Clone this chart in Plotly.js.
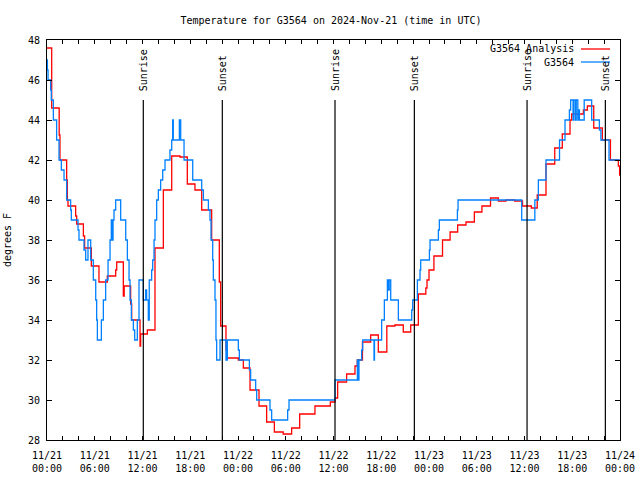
<!DOCTYPE html>
<html>
<head>
<meta charset="utf-8">
<script src="https://cdn.plot.ly/plotly-3.0.1.min.js"></script>
<style>html,body{margin:0;padding:0;background:#fff;} #chart{width:640px;height:480px;}</style>
</head>
<body>
<div id="chart"></div>
<script>
// Hours since 2024-11-21 00:00 UTC
const anaHours = [0,0.59,1.53,1.63,2.47,2.56,2.64,3.60,3.73,4.57,4.73,5.57,6.53,7.58,8.63,8.76,9.59,9.70,10.51,10.64,11.69,11.77,12.61,13.57,14.62,15.67,16.71,17.63,18.59,19.44,20.69,21.65,21.82,22.49,22.66,24.04,24.67,25.51,26.64,27.60,28.57,29.68,30.74,31.75,33.67,35.60,36.20,36.52,37.65,38.70,38.99,39.64,40.67,41.63,42.70,43.72,44.77,45.70,46.66,47.60,47.75,48.00,48.62,49.70,50.65,51.60,52.65,53.70,54.65,55.73,56.72,57.68,58.77,59.75,60.86,61.60,62.70,63.80,64.75,65.72,65.93,67.40,67.90,68.70,69.78,70.80,71.79,71.95,72];
const anaTemps = [47.6,44.6,43.25,42.0,41.0,40.0,39.7,39.2,38.8,38.2,37.6,36.7,35.9,36.2,36.5,36.9,35.2,35.7,34.8,34.0,32.7,33.3,33.5,37.6,40.5,42.2,42.15,40.8,40.5,39.5,38.0,35.9,33.7,32.5,32.1,32.0,31.6,30.5,29.7,28.9,28.4,28.3,28.6,29.3,29.7,29.9,30.1,30.9,31.3,31.7,32.0,32.9,33.25,32.4,33.7,33.75,33.4,33.75,35.3,35.6,36.0,36.5,37.2,38.0,38.4,38.75,38.9,39.4,39.7,40.1,39.95,40.0,39.95,39.7,39.6,40.25,41.8,42.6,43.3,44.0,44.3,44.5,44.7,43.6,43.0,42.0,41.7,41.25,41.25];

const obsHours = [0,0.05,0.13,0.46,0.54,0.80,1.21,1.51,1.80,2.14,2.47,2.97,3.06,3.90,4.02,4.65,4.86,5.15,5.49,5.82,6.12,6.24,6.33,6.83,7.08,7.37,7.67,7.92,8.08,8.20,8.30,8.42,8.63,9.26,9.89,10.10,10.31,10.43,10.60,10.85,11.02,11.35,11.56,12.10,12.40,12.52,12.73,12.85,13.15,13.28,13.45,13.57,13.78,13.99,14.28,14.54,14.83,15.45,15.67,15.79,15.87,16.63,16.80,17.22,18.31,19.44,19.65,20.28,20.48,20.61,20.82,20.90,21.11,21.23,21.32,21.74,22.49,22.66,24.04,24.17,25.43,25.59,26.22,26.35,28.02,28.23,30.24,30.41,36.19,39.00,39.10,39.20,39.54,39.67,41.09,41.15,42.05,42.39,42.77,42.90,43.00,43.19,44.15,45.83,45.95,46.54,46.87,46.96,48.05,48.13,49.18,49.30,51.57,51.65,59.65,61.30,61.74,62.70,64.40,65.09,65.64,65.80,66.10,66.20,66.40,66.50,66.70,66.80,66.90,67.50,68.44,69.41,69.60,70.62,72];
const obsTemps = [47,46.5,46,45.5,45,44,43,42,41.5,41,40,39.5,39,38.5,38,37.5,37,38,37,36,35,34,33,34,35,36,37,38,39,38,39,39.5,40,39,38,37,36,35,34,33.5,33,34,36,35,35.5,35,34,36,36.5,37,38,39,40,40.5,41,41.5,42,42.5,43,44,43,44,43,42,41,40.5,40,39.5,39,38,37,36,35,33,32,33,32,33,32.5,32,31.5,31,30.5,30,29.5,29,29.5,30,31,32,31,32,32.5,33,32,33,34,35,36,35.5,36,35,34,34.5,35,36,36.5,37,37.5,38,38.5,39,39.5,40,39,40,41,42,43,44,44.5,45,44,45,44,45,44,44.5,44,45,44,43.5,43,42,42];

const sunriseHours = [12.10, 36.19, 60.32];
const sunsetHours = [22.03, 46.16, 70.16];

const tickHours = [0,2,4,6,8,10,12,14,16,18,20,22,24,26,28,30,32,34,36,38,40,42,44,46,48,50,52,54,56,58,60,62,64,66,68,70,72];
const tickLabels = ["11/21<br>00:00","","","11/21<br>06:00","","","11/21<br>12:00","","","11/21<br>18:00","","",
  "11/22<br>00:00","","","11/22<br>06:00","","","11/22<br>12:00","","","11/22<br>18:00","","",
  "11/23<br>00:00","","","11/23<br>06:00","","","11/23<br>12:00","","","11/23<br>18:00","","","11/24<br>00:00"];

const seriesNames = ["G3564 Analysis", "G3564"];
const seriesColors = ["#ff0000", "#0080ff"];

function toDate(h) {
  const d = new Date(Date.UTC(2024, 10, 21) + Math.round(h * 3600000));
  return d.toISOString().slice(0, 19).replace('T', ' ');
}

const FONT = "DejaVu Sans Mono";

const traces = [
  {x: anaHours.map(toDate), y: anaTemps, mode: 'lines', name: seriesNames[0],
   line: {shape: 'hv', color: seriesColors[0], width: 1.3}, showlegend: false},
  {x: obsHours.map(toDate), y: obsTemps, mode: 'lines', name: seriesNames[1],
   line: {shape: 'hv', color: seriesColors[1], width: 1.3}, showlegend: false}
];

const shapes = [];
const annotations = [];
const lineTop = (440 - 100) / 400;
const labelBottom = (440 - 93) / 400;
sunriseHours.forEach(h => {
  shapes.push({type: 'line', xref: 'x', yref: 'paper', x0: toDate(h), x1: toDate(h), y0: 0, y1: lineTop,
    line: {color: '#000', width: 1.2}});
  annotations.push({text: 'Sunrise', xref: 'x', yref: 'paper', x: toDate(h), y: labelBottom,
    textangle: -90, xanchor: 'center', yanchor: 'bottom', showarrow: false, xshift: 1,
    font: {family: FONT, size: 10, color: '#000'}});
});
sunsetHours.forEach(h => {
  shapes.push({type: 'line', xref: 'x', yref: 'paper', x0: toDate(h), x1: toDate(h), y0: 0, y1: lineTop,
    line: {color: '#000', width: 1.2}});
  annotations.push({text: 'Sunset', xref: 'x', yref: 'paper', x: toDate(h), y: labelBottom,
    textangle: -90, xanchor: 'center', yanchor: 'bottom', showarrow: false, xshift: 1,
    font: {family: FONT, size: 10, color: '#000'}});
});

// custom legend (text left, line sample right, like gnuplot)
const legTextX = (576 - 47) / 573;
const legX0 = (581 - 47) / 573, legX1 = (610 - 47) / 573;
const legY = [(440 - 49) / 400, (440 - 62) / 400];
seriesNames.forEach((n, i) => {
  annotations.push({text: n, xref: 'paper', yref: 'paper', x: legTextX, y: legY[i],
    xanchor: 'right', yanchor: 'middle', showarrow: false,
    font: {family: FONT, size: 10, color: '#000'}});
  shapes.push({type: 'line', xref: 'paper', yref: 'paper', x0: legX0, x1: legX1, y0: legY[i], y1: legY[i],
    line: {color: seriesColors[i], width: 1.3}});
});

const layout = {
  width: 640, height: 480,
  margin: {l: 47, r: 20, t: 40, b: 40, pad: 0},
  paper_bgcolor: '#fff', plot_bgcolor: '#fff',
  font: {family: FONT, size: 10, color: '#000'},
  title: {text: 'Temperature for G3564 on 2024-Nov-21 (time in UTC)', xref: 'paper', x: 0.4956,
    xanchor: 'center', y: 1 - 20 / 480, yanchor: 'middle', font: {family: FONT, size: 10, color: '#000'}},
  xaxis: {type: 'date', range: [toDate(0), toDate(72)], tickvals: tickHours.map(toDate), ticktext: tickLabels,
    ticks: 'inside', ticklen: 4, tickcolor: '#000', mirror: 'allticks', showline: true, linecolor: '#000',
    linewidth: 1, showgrid: false, zeroline: false, ticklabelstandoff: 6,
    tickfont: {family: FONT, size: 10, color: '#000'}},
  yaxis: {range: [28, 48], dtick: 2, tick0: 28, ticks: 'inside', ticklen: 5, tickcolor: '#000',
    mirror: 'allticks', showline: true, linecolor: '#000', linewidth: 1, showgrid: false, zeroline: false,
    ticklabelstandoff: 4,
    tickfont: {family: FONT, size: 10, color: '#000'},
    title: {text: 'degrees F', standoff: 14, font: {family: FONT, size: 10, color: '#000'}}},
  shapes: shapes,
  annotations: annotations,
  showlegend: false
};

Plotly.newPlot('chart', traces, layout, {displayModeBar: false, staticPlot: true});
</script>
</body>
</html>
